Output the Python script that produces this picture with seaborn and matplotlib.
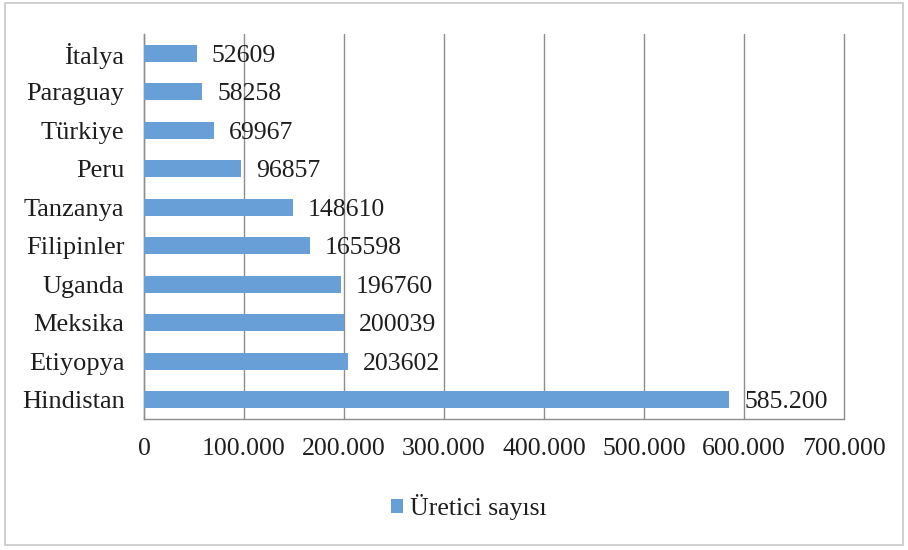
import matplotlib
matplotlib.use("Agg")
import matplotlib.pyplot as plt
from matplotlib.patches import Rectangle, Patch
from matplotlib.ticker import FixedLocator
import seaborn as sns
import pandas as pd

# Number of producers per country
countries = ["İtalya", "Paraguay", "Türkiye", "Peru", "Tanzanya",
             "Filipinler", "Uganda", "Meksika", "Etiyopya", "Hindistan"]
producers = [52609, 58258, 69967, 96857, 148610,
             165598, 196760, 200039, 203602, 585200]
value_labels = ["52609", "58258", "69967", "96857", "148610",
                "165598", "196760", "200039", "203602", "585.200"]
x_ticks = [0, 100000, 200000, 300000, 400000, 500000, 600000, 700000]
x_tick_labels = ["0", "100.000", "200.000", "300.000", "400.000",
                 "500.000", "600.000", "700.000"]
series_name = "Üretici sayısı"

sns.set_style("white")
plt.rcParams["font.family"] = ["Liberation Serif", "DejaVu Serif"]

bar_color = "#689FD6"
grid_color = "#8E8E8E"
text_color = "#1E1E1E"
fs = 18.5

df = pd.DataFrame({"country": countries, "count": producers})

fig = plt.figure(figsize=(9.08, 5.5), dpi=100)
ax = fig.add_axes([144 / 908, 1 - 419 / 550, 700 / 908, 385 / 550])

sns.barplot(data=df, x="count", y="country", order=countries,
            color=bar_color, saturation=1, width=0.44, linewidth=0,
            ax=ax, zorder=3)

ax.set_xlim(0, 700000)
ax.set_ylim(len(countries) - 0.5, -0.5)
ax.set_xticks(x_ticks)
ax.set_xticklabels(x_tick_labels, fontsize=fs, color=text_color)
ax.set_yticks(range(len(countries)))
ax.set_yticklabels(countries, fontsize=fs + 0.5, color=text_color)
ax.set_xlabel("")
ax.set_ylabel("")

# vertical gridlines
ax.grid(axis="x", color=grid_color, linewidth=1.0, zorder=0)
ax.set_axisbelow(True)
for gl in ax.get_xgridlines():
    gl.set_clip_on(False)

# category boundary ticks on the y axis
ax.yaxis.set_minor_locator(FixedLocator([i - 0.5 for i in range(len(countries) + 1)]))
ax.tick_params(axis="y", which="major", length=0, pad=14)
ax.tick_params(axis="y", which="minor", length=7, color=grid_color, width=1)
ax.tick_params(axis="x", which="major", length=7, color=grid_color, width=1, pad=7)

for side in ["top", "right"]:
    ax.spines[side].set_visible(False)
for side in ["left", "bottom"]:
    ax.spines[side].set_color(grid_color)
    ax.spines[side].set_linewidth(1.0)

# value labels next to each bar
for i, (v, lab) in enumerate(zip(producers, value_labels)):
    ax.text(v + 15000, i, lab, va="center_baseline", ha="left",
            fontsize=fs, color=text_color, zorder=4)

# legend below the plot
handle = Patch(facecolor=bar_color, edgecolor="none")
fig.legend([handle], [series_name], loc="center", bbox_to_anchor=(0.516, 1 - 507 / 550),
           frameon=False, fontsize=fs, handlelength=0.5, handleheight=0.5,
           handletextpad=0.25, labelcolor=text_color)

# outer chart border
fig.patches.append(Rectangle((5 / 908, 5 / 550), 898 / 908, 542 / 550,
                             transform=fig.transFigure, fill=False,
                             edgecolor="#C8C8C8", linewidth=1.2))

fig.savefig("out.png", dpi=100)
